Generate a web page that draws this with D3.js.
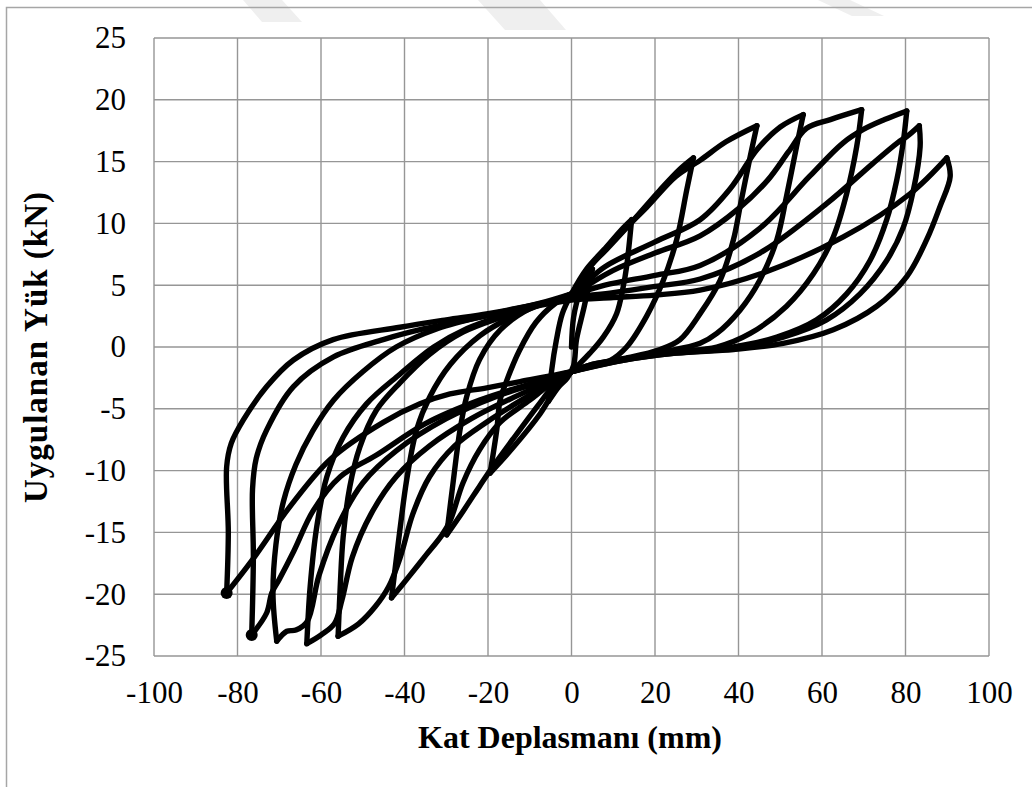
<!DOCTYPE html>
<html>
<head>
<meta charset="utf-8">
<script src="https://cdn.jsdelivr.net/npm/d3@7"></script>
<style>
  body { margin: 0; background: #fff; }
  svg { display: block; }
  text { font-family: "Liberation Serif", "Times New Roman", serif; fill: #000; }
</style>
</head>
<body>
<div id="chart"></div>
<script>
// Hysteresis curve: [displacement mm, load kN]
// one array per half cycle, in test order
var up1 = [[0,0],[0.5,2.4],[2,4.4],[5,6.3]];
var dn1 = [[5,6.3],[3,3.2],[1.2,0.6],[0.5,-1.5],[-1,-2.5],[-3,-3.2],[-5.5,-4.4]];
var up2 = [[-5.5,-4.4],[-4.8,-2.0],[-3.6,0.6],[-2.2,2.7],[0,4.3],[3.6,6.3],[8.4,8.1],[12,9.5],[14.4,10.3]];
var dn2 = [[14.4,10.3],[13.2,6.5],[12.4,4.9],[10.8,2.7],[7.6,0.8],[4.4,-0.5],[1.2,-1.6],[-2.8,-2.9],[-7.5,-5.4],[-13.9,-8.1],[-19.5,-10.2]];
var up3 = [[-19.5,-10.2],[-17.9,-6.7],[-17.1,-4.3],[-15.5,-2.7],[-12.5,-0.3],[-8.5,2.0],[-4,3.5],[0,4.3],[3.6,6.2],[8.4,7.9],[14.4,10.1],[21.2,12.7],[26,14.4],[29.2,15.3]];
var dn3 = [[29.2,15.3],[27.6,12.7],[25.2,8.7],[22,5.4],[18,2.5],[13.2,0.0],[9.2,-1.1],[4,-1.6],[0,-2.0],[-4,-3.0],[-7.5,-4.5],[-13.9,-7.4],[-19.3,-9.9],[-21.9,-11.2],[-26,-13.3],[-29.9,-15.2]];
var up4 = [[-29.9,-15.2],[-28.3,-10.8],[-26.7,-6.7],[-25.1,-4.0],[-22,-1.0],[-17,1.4],[-10,3.1],[-4,3.8],[0,4.3],[4,6.3],[10,8.6],[18,11.3],[25,13.8],[30.8,15.1],[37,16.6],[44.4,17.9]];
var dn4 = [[44.4,17.9],[42.8,15.4],[40.4,11.4],[38.8,8.7],[35.6,5.4],[30.8,2.7],[26,0.6],[21.2,-0.2],[13,-0.9],[5,-1.4],[0,-2.0],[-5,-3.0],[-10,-4.3],[-17.1,-6.1],[-22,-8.3],[-26,-11],[-29,-14.0],[-31,-15.2],[-35,-16.9],[-39,-18.6],[-43.1,-20.3]];
var up5 = [[-43.1,-20.3],[-41.1,-14.8],[-39.5,-10.8],[-37.1,-6.7],[-33.9,-4.0],[-29,-1.4],[-22,0.9],[-14,2.5],[-6,3.6],[0,4.3],[8,6.5],[20,8.5],[30.8,10.3],[38,12.8],[44.5,16.0],[50,17.8],[55.5,18.8]];
var dn5 = [[55.5,18.8],[53.9,16.2],[51.5,12.2],[49.2,8.7],[45.1,5.4],[40.4,3.0],[34.8,1.1],[30.8,0.3],[22,-0.4],[12,-1.0],[5,-1.4],[0,-2.0],[-5,-2.9],[-12,-4.3],[-20,-6.0],[-28,-8.0],[-34,-10.5],[-38,-13.5],[-41,-17],[-43.8,-19.4],[-47,-21.0],[-51,-22.4],[-55.9,-23.4]];
var up6 = [[-55.9,-23.4],[-55.4,-19.4],[-54.7,-15.4],[-53.1,-11.3],[-50.7,-8.1],[-46.7,-5.1],[-41.1,-2.9],[-34,-0.6],[-26,1.2],[-16,2.5],[-7,3.5],[0,4.3],[10,6.2],[20,7.6],[30.8,9.0],[40,11.2],[47,13.5],[52,15.8],[56.3,17.7],[62,18.4],[69.5,19.2]];
var dn6 = [[69.5,19.2],[68.3,16.2],[65.9,12.4],[62.7,8.9],[57.9,5.9],[51.5,3.3],[42.8,1.1],[34.8,0.0],[25,-0.4],[12,-1.0],[0,-2.0],[-6,-2.9],[-14,-4.1],[-24,-5.8],[-34,-8.0],[-42,-10.5],[-48,-13.5],[-52.5,-17],[-55,-20.5],[-56.8,-22.4],[-60,-23.3],[-63.4,-24.0]];
var up7 = [[-63.4,-24.0],[-62.6,-19.4],[-61,-14.5],[-58.6,-10.5],[-54.7,-7.3],[-49.1,-4.6],[-41.1,-2.2],[-33,0.0],[-25,1.5],[-16,2.6],[-7,3.5],[0,4.2],[8,5.0],[20,5.8],[30.8,6.6],[45.1,9.6],[57,13.8],[65,16.5],[69.9,17.6],[75,18.4],[80.3,19.1]];
var dn7 = [[80.3,19.1],[79.5,16.7],[77.9,13.5],[75.5,10.3],[71.5,7.0],[65.9,4.3],[58.7,2.2],[49.2,0.8],[38.8,0.0],[25,-0.4],[12,-1.0],[0,-2.0],[-8,-2.9],[-18,-4.0],[-30,-5.8],[-42,-8.4],[-50,-11],[-56,-14.5],[-60.5,-18.5],[-63.3,-22.2],[-66,-22.9],[-68.2,-23.0],[-70.6,-23.8]];
var up8 = [[-70.6,-23.8],[-71.5,-20],[-70.8,-16],[-69,-12.5],[-66,-9.5],[-62,-6.8],[-57,-4.3],[-50,-2.0],[-42,0.0],[-32,1.5],[-20,2.6],[-9,3.4],[0,4.0],[10,4.4],[20,4.9],[30.8,5.5],[45.1,7.6],[61.1,11.6],[72,14.8],[78,16.5],[80.6,17.1],[83.3,17.9]];
var dn8 = [[83.3,17.9],[83.5,16.2],[81.9,12.7],[79.5,9.7],[75.5,7.0],[69.1,4.3],[61.1,2.2],[50.7,0.8],[38.8,-0.1],[25,-0.5],[12,-1.1],[0,-2.0],[-10,-3.0],[-22,-4.3],[-35,-6.2],[-47,-8.8],[-55.4,-10.5],[-61.8,-13.2],[-66.5,-16.5],[-70,-18.8],[-71.8,-19.9],[-73,-21.5],[-76.6,-23.3]];
var up9 = [[-76.6,-23.3],[-76.2,-17],[-76.4,-11.5],[-75.5,-9.0],[-73,-6.7],[-66.6,-3.2],[-57,-0.8],[-45.1,0.6],[-35,1.5],[-22,2.4],[-10,3.2],[0,3.8],[10,4.0],[20,4.2],[30.8,4.6],[45.1,5.9],[65.1,8.9],[81.1,12.4],[89.9,15.3]];
var dn9 = [[89.9,15.3],[90.7,13.8],[88.3,11.4],[85.1,8.7],[80.3,5.7],[73.1,3.3],[62.7,1.4],[50.7,0.3],[38.8,-0.2],[25,-0.5],[12,-1.1],[0,-2.0],[-12.3,-2.8],[-20.3,-3.3],[-29.1,-3.8],[-36.3,-4.6],[-45.1,-6.1],[-57.8,-9.1],[-67.4,-12.9],[-76.4,-17.2],[-82.6,-19.9]];
var up10 = [[-82.6,-19.9],[-82.2,-15],[-82.6,-9.7],[-81.5,-7.8],[-78.6,-5.9],[-73,-3.2],[-66.6,-1.05],[-57.1,0.6],[-41.1,1.6],[-30,2.2],[-20,2.7],[-8,3.5],[0,4.3]];

// last two reversal points carry a marker
var markers = [[-76.6,-23.3],[-82.6,-19.9]];

var xTicks = [-100,-80,-60,-40,-20,0,20,40,60,80,100];
var yTicks = [-25,-20,-15,-10,-5,0,5,10,15,20,25];

var branches = [up1,dn1,up2,dn2,up3,dn3,up4,dn4,up5,dn5,up6,dn6,up7,dn7,up8,dn8,up9,dn9,up10];

// Dimensions
var W = 1032, H = 787;
var margin = {top: 38, left: 154},
    width = 835,
    height = 618;

var svg = d3.select("#chart")
  .append("svg")
  .attr("width", W)
  .attr("height", H);

svg.append("rect").attr("width", W).attr("height", H).attr("fill", "#fff");

// faint watermark pieces showing at the top edge
svg.append("g").attr("fill", "#efefef")
  .selectAll("path")
  .data(["M243,0H282L302,22H262Z", "M478,0H540L566,30H505Z", "M818,0H850L884,16H852Z"])
  .enter().append("path")
  .attr("d", function(d) { return d; });

// outer chart frame (only top and left edges visible)
svg.append("path")
  .attr("d", "M6.5," + H + "V7.5H" + W)
  .attr("fill", "none")
  .attr("stroke", "#a6a6a6")
  .attr("stroke-width", 1.5);

var g = svg.append("g")
  .attr("transform", "translate(" + margin.left + "," + margin.top + ")");

var x = d3.scaleLinear().domain([-100, 100]).range([0, width]);
var y = d3.scaleLinear().domain([-25, 25]).range([height, 0]);

// Gridlines
g.append("g").selectAll("line")
  .data(xTicks)
  .enter().append("line")
  .attr("x1", function(d) { return x(d); })
  .attr("x2", function(d) { return x(d); })
  .attr("y1", 0).attr("y2", height)
  .attr("stroke", "#969696").attr("stroke-width", 1.4);

g.append("g").selectAll("line")
  .data(yTicks)
  .enter().append("line")
  .attr("y1", function(d) { return y(d); })
  .attr("y2", function(d) { return y(d); })
  .attr("x1", 0).attr("x2", width)
  .attr("stroke", "#969696").attr("stroke-width", 1.4);

// Axes (labels only), plain hyphen for negatives
var fmt = function(d) { return String(d); };
var xAxis = g.append("g")
  .attr("transform", "translate(0," + height + ")")
  .call(d3.axisBottom(x).tickValues(xTicks).tickFormat(fmt).tickSize(0).tickPadding(25));
var yAxis = g.append("g")
  .call(d3.axisLeft(y).tickValues(yTicks).tickFormat(fmt).tickSize(0).tickPadding(28));

[xAxis, yAxis].forEach(function(a) {
  a.select(".domain").remove();
  a.selectAll("text")
    .style("font-family", '"Liberation Serif", "Times New Roman", serif')
    .style("font-size", "31px")
    .attr("fill", "#000");
});

// Curve
var line = d3.line()
  .x(function(d) { return x(d[0]); })
  .y(function(d) { return y(d[1]); })
  .curve(d3.curveCatmullRom.alpha(0.5));

g.append("g").selectAll("path")
  .data(branches)
  .enter().append("path")
  .attr("d", line)
  .attr("fill", "none")
  .attr("stroke", "#000")
  .attr("stroke-width", 5.4)
  .attr("stroke-linejoin", "round")
  .attr("stroke-linecap", "round");

g.selectAll("circle.mk")
  .data(markers)
  .enter().append("circle")
  .attr("class", "mk")
  .attr("cx", function(d) { return x(d[0]); })
  .attr("cy", function(d) { return y(d[1]); })
  .attr("r", 6)
  .attr("fill", "#000");

// Axis titles
svg.append("text")
  .attr("x", 570)
  .attr("y", 748)
  .attr("text-anchor", "middle")
  .style("font-size", "32px")
  .style("font-weight", "bold")
  .text("Kat Deplasmanı (mm)");

svg.append("text")
  .attr("transform", "translate(47,347) rotate(-90)")
  .attr("text-anchor", "middle")
  .style("font-size", "33px")
  .style("font-weight", "bold")
  .style("letter-spacing", "1px")
  .text("Uygulanan Yük (kN)");
</script>
</body>
</html>
